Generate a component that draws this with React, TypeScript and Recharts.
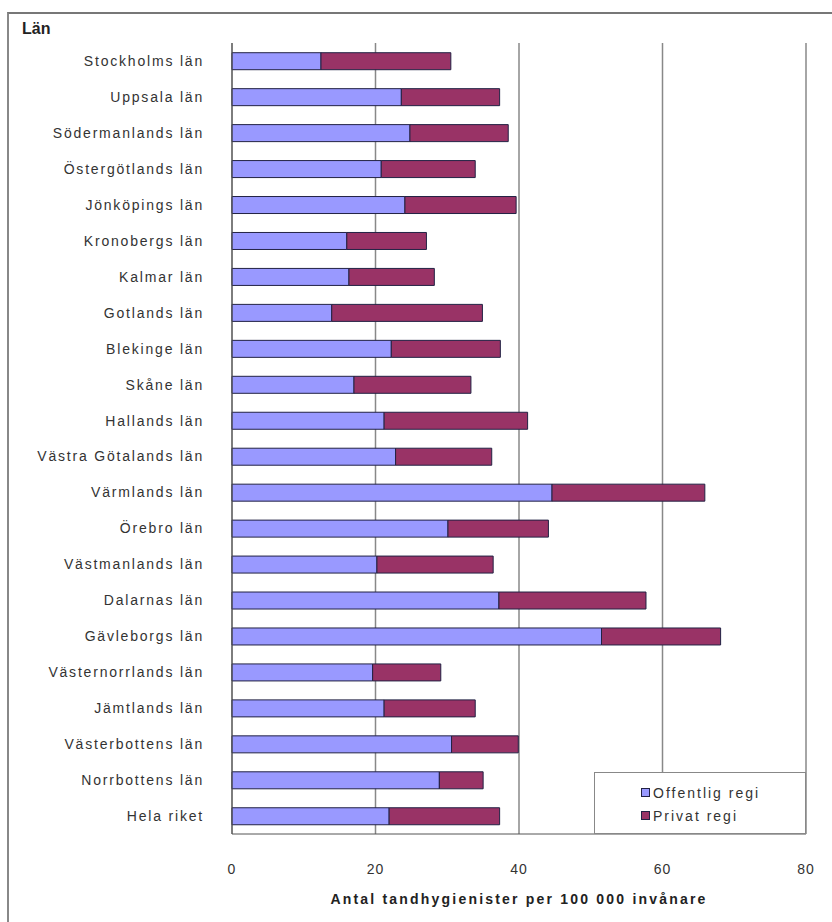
import React from 'react';
import { BarChart, Bar, XAxis, YAxis, CartesianGrid, Legend } from 'recharts';

const regions = [
  'Stockholms län', 'Uppsala län', 'Södermanlands län', 'Östergötlands län', 'Jönköpings län',
  'Kronobergs län', 'Kalmar län', 'Gotlands län', 'Blekinge län', 'Skåne län', 'Hallands län',
  'Västra Götalands län', 'Värmlands län', 'Örebro län', 'Västmanlands län', 'Dalarnas län',
  'Gävleborgs län', 'Västernorrlands län', 'Jämtlands län', 'Västerbottens län', 'Norrbottens län',
  'Hela riket',
];

const offentlig = [12.4, 23.6, 24.8, 20.8, 24.1, 16.0, 16.3, 13.9, 22.2, 17.0, 21.2, 22.8, 44.6, 30.1, 20.2, 37.2, 51.5, 19.6, 21.2, 30.6, 28.9, 21.9];
const privat = [18.1, 13.7, 13.7, 13.1, 15.5, 11.1, 11.9, 21.0, 15.2, 16.3, 20.0, 13.4, 21.3, 14.0, 16.2, 20.5, 16.6, 9.5, 12.7, 9.3, 6.1, 15.4];

const xTicks = [0, 20, 40, 60, 80];

const data = regions.map((name, i) => ({ name, offentlig: offentlig[i], privat: privat[i] }));

const textColor = '#333';
const font = '"Liberation Sans", Arial, sans-serif';

const CategoryTick = (props: any) => {
  const { x, y, payload } = props;
  return (
    <text x={x - 20} y={y} dy={5} textAnchor="end" fill={textColor} fontSize={14} fontFamily={font} letterSpacing={1.8}>
      {payload.value}
    </text>
  );
};

const ValueTick = (props: any) => {
  const { x, y, payload } = props;
  return (
    <text x={x} y={y} dy={32} textAnchor="middle" fill={textColor} fontSize={14} fontFamily={font} letterSpacing={1}>
      {payload.value}
    </text>
  );
};

const LegendBox = () => (
  <div style={{ border: '1.5px solid #888', background: '#fff', width: 212, height: 62, boxSizing: 'border-box', paddingLeft: 46, paddingTop: 8, fontFamily: font, fontSize: 14, color: textColor, letterSpacing: 2 }}>
    {[{ label: 'Offentlig regi', color: '#9999FF' }, { label: 'Privat regi', color: '#993366' }].map((it) => (
      <div key={it.label} style={{ display: 'flex', alignItems: 'center', height: 23 }}>
        <span style={{ width: 7, height: 7, background: it.color, border: '1px solid #222244', marginRight: 3, display: 'inline-block' }} />
        {it.label}
      </div>
    ))}
  </div>
);

export default function App() {
  return (
    <div style={{ position: 'absolute', left: 0, top: 0, width: 832, height: 922, background: '#fff' }}>
      <div style={{ position: 'absolute', left: 7, top: 12, right: 0, bottom: 0, borderLeft: '2px solid #888', borderTop: '2px solid #777' }} />
      <div style={{ position: 'absolute', left: 22, top: 20, fontFamily: font, fontWeight: 'bold', fontSize: 16, color: '#222' }}>Län</div>
      <div style={{ position: 'absolute', left: 232, width: 574, top: 891, textAlign: 'center', fontFamily: font, fontWeight: 'bold', fontSize: 14, color: '#222', letterSpacing: 2.2 }}>
        Antal tandhygienister per 100 000 invånare
      </div>
      <BarChart
        width={832}
        height={922}
        data={data}
        layout="vertical"
        barCategoryGap="27%"
        margin={{ top: 43, right: 26, left: 12, bottom: 58 }}
        style={{ position: 'absolute', left: 0, top: 0 }}
      >
        <CartesianGrid horizontal={false} stroke="#888" strokeWidth={1.5} />
        <XAxis type="number" domain={[0, 80]} ticks={xTicks} tick={<ValueTick />} tickLine={false} axisLine={{ stroke: '#555' }} height={30} />
        <YAxis type="category" dataKey="name" width={220} tick={<CategoryTick />} tickLine={false} axisLine={{ stroke: '#555' }} interval={0} />
        <Legend
          layout="vertical"
          align="center"
          verticalAlign="middle"
          content={<LegendBox />}
          wrapperStyle={{ position: 'absolute', left: 594, top: 772, width: 212, height: 62 }}
        />
        <Bar dataKey="offentlig" name="Offentlig regi" stackId="a" fill="#9999FF" stroke="#222244" strokeWidth={1} isAnimationActive={false} />
        <Bar dataKey="privat" name="Privat regi" stackId="a" fill="#993366" stroke="#222244" strokeWidth={1} isAnimationActive={false} />
      </BarChart>
    </div>
  );
}
